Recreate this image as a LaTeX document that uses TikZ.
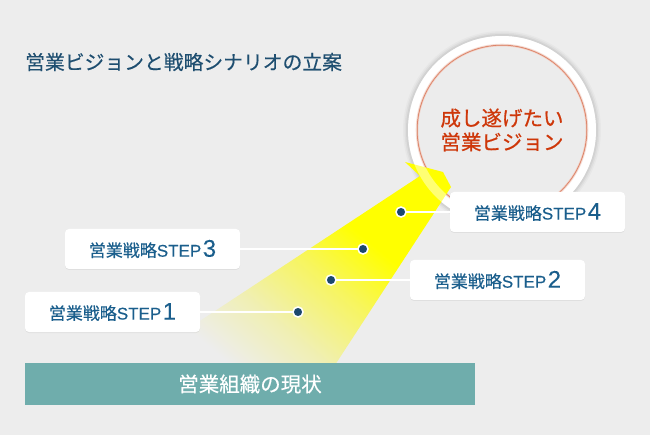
\documentclass[tikz,border=0pt]{standalone}
\usepackage{fontspec}
\setmainfont{Noto Sans CJK JP}[FakeBold=0.35]
\newfontfamily\latinfont{Liberation Sans}[FakeBold=0.25]
\usetikzlibrary{shadows,calc}
\definecolor{bg}{RGB}{237,237,237}
\definecolor{titleblue}{RGB}{30,78,112}
\definecolor{stepblue}{RGB}{26,94,140}
\definecolor{dotblue}{RGB}{28,72,110}
\definecolor{visred}{RGB}{206,55,10}
\definecolor{ringline}{RGB}{214,112,80}
\definecolor{barteal}{RGB}{111,173,172}
\definecolor{innergray}{RGB}{236,236,236}
\definecolor{beamyellow}{RGB}{255,255,0}
\definecolor{beammid}{RGB}{247,245,95}
\definecolor{beampale}{RGB}{240,239,180}
\pgfdeclarehorizontalshading{beamshade}{100bp}{color(0bp)=(bg); color(27bp)=(bg); color(39bp)=(beampale); color(52bp)=(beammid); color(63bp)=(beamyellow); color(100bp)=(beamyellow)}
\newcommand\steptext[1]{{\addfontfeature{FakeBold=0.35}営業戦略}{\latinfont STEP\hspace{1.5pt}{\fontsize{24}{24}\selectfont\addfontfeature{FakeBold=0.05}#1}}}
\begin{document}
\begin{tikzpicture}[x=1pt,y=-1pt,
  stepbox/.style={fill=white, rounded corners=4pt, minimum width=175pt, minimum height=40pt, inner sep=0pt, text=stepblue, font=\fontsize{17}{19}\selectfont, drop shadow={opacity=0.12, shadow xshift=0pt, shadow yshift=-1pt}},
  dotnode/.style={circle, fill=dotblue, draw=white, line width=1.5pt, minimum size=10pt, inner sep=0pt},
  conn/.style={white, line width=1.8pt}]
\fill[bg] (0,0) rectangle (650,435);
\useasboundingbox (0,0) rectangle (650,435);
% title
\node[anchor=west, text=titleblue, inner sep=0pt, font=\fontsize{19.8}{20}\selectfont] (title) at (25,62) {営業ビジョンと戦略シナリオの立案};
% vision circle
\foreach \r/\o in {99/0.025,97.5/0.035,96/0.05} \fill[black,opacity=\o] (502,130) circle[radius=\r pt];
\fill[white] (502,130) circle[radius=94pt];
\fill[innergray] (502,130) circle[radius=85pt];
\draw[ringline!35, line width=2.6pt] (502,130) circle[radius=85pt];
\draw[ringline, line width=1pt] (502,130) circle[radius=85pt];
% beam
\shade[shading=beamshade, shading angle=50] (133,365) -- (420,176) -- (405,162) -- (443,172) -- (451,187) -- (335,365) -- cycle;
\fill[white, opacity=0.45, even odd rule] (502,130) circle[radius=94pt] circle[radius=85pt];
\node[circle, minimum size=188pt, inner sep=0pt] (vision) at (502,130) {};
\node[text=visred, align=center, inner sep=0pt, font=\fontsize{20.5}{24}\selectfont\addfontfeature{FakeBold=0.6}] (visiontext) at (502,130) {成し遂げたい\\営業ビジョン};
% steps
\node[stepbox] (s1) at (112.5,312) {\steptext{1}};
\node[stepbox] (s3) at (152.5,249) {\steptext{3}};
\node[stepbox] (s2) at (497.5,280) {\steptext{2}};
\node[stepbox] (s4) at (537.5,212) {\steptext{4}};
\coordinate (c1) at (298,312);
\coordinate (c3) at (363,249);
\coordinate (c2) at (331,280);
\coordinate (c4) at (401,212);
\draw[conn] (s1.east) -- (c1);
\draw[conn] (s3.east) -- (c3);
\draw[conn] (s2.west) -- (c2);
\draw[conn] (s4.west) -- (c4);
\node[dotnode] (d1) at (c1) {};
\node[dotnode] (d3) at (c3) {};
\node[dotnode] (d2) at (c2) {};
\node[dotnode] (d4) at (c4) {};
% bar
\node[fill=barteal, minimum width=450pt, minimum height=42pt, inner sep=0pt, text=white, font=\fontsize{20.5}{20}\selectfont] (now) at (250,384) {営業組織の現状};
\end{tikzpicture}
\end{document}
